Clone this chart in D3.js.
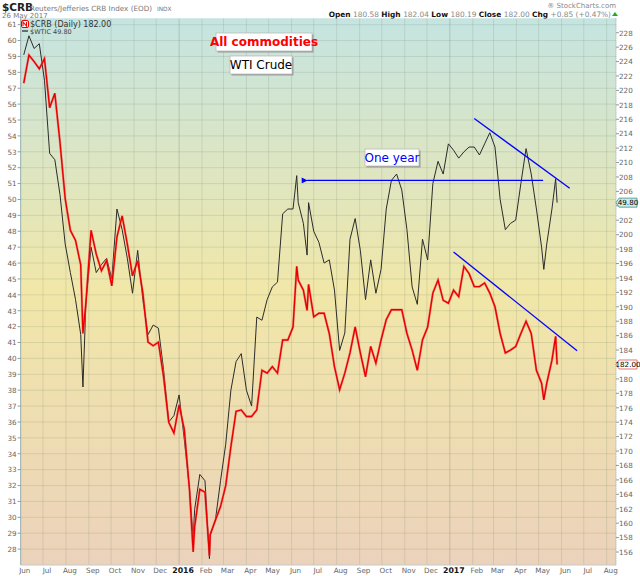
<!DOCTYPE html>
<html><head><meta charset="utf-8">
<script src="https://cdn.jsdelivr.net/npm/d3@7"></script>
<style>body{margin:0;background:#fff}svg{display:block}text{font-family:"DejaVu Sans",Verdana,sans-serif}</style>
</head><body>
<script>
// ---- data ----
const dates = ["2015-06-05","2015-06-12","2015-06-19","2015-06-26","2015-07-03","2015-07-10","2015-07-17","2015-07-24","2015-07-31","2015-08-07","2015-08-14","2015-08-21","2015-08-24","2015-08-28","2015-09-04","2015-09-11","2015-09-18","2015-09-25","2015-10-02","2015-10-09","2015-10-16","2015-10-23","2015-10-30","2015-11-06","2015-11-13","2015-11-20","2015-11-27","2015-12-04","2015-12-11","2015-12-18","2015-12-25","2016-01-01","2016-01-08","2016-01-15","2016-01-20","2016-01-22","2016-01-29","2016-02-05","2016-02-11","2016-02-12","2016-02-19","2016-02-26","2016-03-04","2016-03-11","2016-03-18","2016-03-25","2016-04-01","2016-04-08","2016-04-15","2016-04-22","2016-04-29","2016-05-06","2016-05-13","2016-05-20","2016-05-27","2016-06-03","2016-06-08","2016-06-10","2016-06-17","2016-06-22","2016-06-24","2016-07-01","2016-07-08","2016-07-15","2016-07-22","2016-07-29","2016-08-05","2016-08-12","2016-08-19","2016-08-26","2016-09-02","2016-09-09","2016-09-16","2016-09-23","2016-09-30","2016-10-07","2016-10-14","2016-10-21","2016-10-28","2016-11-04","2016-11-11","2016-11-18","2016-11-25","2016-12-02","2016-12-09","2016-12-16","2016-12-23","2016-12-30","2017-01-06","2017-01-13","2017-01-20","2017-01-27","2017-02-03","2017-02-10","2017-02-17","2017-02-24","2017-03-03","2017-03-10","2017-03-17","2017-03-24","2017-03-31","2017-04-07","2017-04-14","2017-04-21","2017-04-28","2017-05-05","2017-05-08","2017-05-12","2017-05-19","2017-05-24","2017-05-26"];
const wti = [59.1,60.3,59.5,59.8,57.5,52.9,52.5,50.3,47.2,45.4,43.7,41.5,38.2,43.5,47.0,45.4,45.9,46.3,45.0,49.4,48.1,46.3,44.1,46.8,43.7,41.5,42.1,41.9,39.3,36.0,36.4,37.7,34.9,31.8,28.7,30.5,32.7,32.3,27.4,28.9,29.8,32.3,34.6,38.0,39.8,40.3,38.0,37.0,42.6,42.4,43.7,44.5,44.8,49.1,49.4,49.4,51.5,49.8,48.5,46.5,49.8,48.0,47.3,46.0,46.2,44.3,40.5,41.6,47.5,48.8,46.8,43.7,46.2,44.1,45.6,49.4,51.2,51.6,50.6,48.1,44.5,43.4,47.5,46.2,51.0,52.4,51.6,53.5,53.1,52.6,53.0,53.3,53.3,52.8,53.5,54.2,53.3,50.0,48.1,48.5,48.7,51.0,53.2,51.6,49.4,47.0,45.6,47.2,49.4,51.3,49.8];
const crb = [221.0,224.9,224.0,223.0,224.4,217.6,219.6,212.8,205.0,200.6,199.2,195.8,186.3,190.5,200.6,197.3,195.0,196.4,192.9,199.7,202.6,198.7,194.3,196.4,191.9,185.1,184.6,185.1,180.3,174.0,172.5,176.4,173.0,164.7,156.0,159.5,164.7,164.3,155.5,158.4,160.4,162.3,165.2,170.6,175.5,175.7,174.8,174.8,175.7,181.2,180.8,181.7,180.8,185.4,185.4,187.2,195.6,193.7,192.3,189.5,193.1,188.6,189.1,189.1,186.3,181.7,178.5,180.8,183.6,187.2,183.6,180.3,184.5,182.2,185.4,188.2,189.6,189.6,189.6,186.3,184.0,181.2,185.4,187.2,191.9,193.7,190.9,190.5,192.3,191.4,195.6,194.6,192.8,192.8,193.3,191.9,190.0,186.3,183.6,184.0,184.5,186.3,188.0,186.3,181.2,179.4,177.1,179.4,182.6,185.9,182.0];
const leftTicks = d3.range(28, 62, 1);
const rightTicks = d3.range(156, 230, 2);
const monthNames = ["Jan","Feb","Mar","Apr","May","Jun","Jul","Aug","Sep","Oct","Nov","Dec"];
// annotation anchors (date, value)
const topTrend = [["2017-02-03",55.1],["2017-06-12",50.7]];      // on WTI scale
const lowTrend = [["2017-01-06",197.6],["2017-06-22",183.9]];    // on CRB scale
const oneYearArrow = [["2017-05-07",51.2],["2016-06-22",51.2]];  // on WTI scale

const parse = d3.timeParse("%Y-%m-%d");
const W = 640, H = 576;
const L = 20.6, R = 616, T = 18.3, B = 565;
const x = d3.scaleTime().domain([parse("2015-06-01"), parse("2017-08-14")]).range([20.8, 616.3]);
const yL = d3.scaleLinear().domain([27, 61.4]).range([B, T]);
const yR = d3.scaleLinear().domain([154.2, 230]).range([B, T]);

const svg = d3.select("body").append("svg").attr("width", W).attr("height", H);
const defs = svg.append("defs");
const g = defs.append("linearGradient").attr("id","bg").attr("x1",0).attr("y1",0).attr("x2",0).attr("y2",1);
g.append("stop").attr("offset","0%").attr("stop-color","#c5e4e1");
g.append("stop").attr("offset","50%").attr("stop-color","#f1e7a8");
g.append("stop").attr("offset","100%").attr("stop-color","#ebd2bb");
defs.append("clipPath").attr("id","clip").append("rect").attr("x",L).attr("y",T).attr("width",R-L).attr("height",B-T);
const mk = defs.append("marker").attr("id","arr").attr("viewBox","0 0 10 10").attr("refX",1).attr("refY",5)
  .attr("markerWidth",8).attr("markerHeight",6).attr("orient","auto-start-reverse").attr("markerUnits","userSpaceOnUse");
mk.append("path").attr("d","M0,5L10,0L10,10Z").attr("fill","#0000ff");

svg.append("rect").attr("x",L).attr("y",T).attr("width",R-L).attr("height",B-T).attr("fill","url(#bg)");

// grid
const grid = svg.append("g").attr("clip-path","url(#clip)");
leftTicks.forEach(v => grid.append("line").attr("x1",L).attr("x2",R).attr("y1",yL(v)).attr("y2",yL(v))
  .attr("stroke","#6e7f6a").attr("stroke-opacity",0.18).attr("stroke-width",1));
const months = d3.timeMonth.range(parse("2015-06-01"), parse("2017-08-10"));
months.forEach(m => grid.append("line").attr("x1",x(m)).attr("x2",x(m)).attr("y1",T).attr("y2",B)
  .attr("stroke","#6e7f6a").attr("stroke-opacity", m.getMonth()===0 ? 0.3 : 0.18).attr("stroke-width",1));

// frame
svg.append("line").attr("x1",L).attr("x2",L).attr("y1",T).attr("y2",B).attr("stroke","#9fb6b4").attr("stroke-width",1);
svg.append("line").attr("x1",L).attr("x2",R).attr("y1",B).attr("y2",B).attr("stroke","#c8c8c8").attr("stroke-width",1);
svg.append("line").attr("x1",R).attr("x2",R).attr("y1",T).attr("y2",B).attr("stroke","#9aa").attr("stroke-dasharray","1,1").attr("stroke-width",1);

// left axis
const la = svg.append("g");
leftTicks.forEach(v => {
  la.append("line").attr("x1",L-3).attr("x2",L).attr("y1",yL(v)).attr("y2",yL(v)).attr("stroke","#999");
  la.append("text").attr("x",L-4).attr("y",yL(v)+2.8).attr("text-anchor","end").attr("font-size",7.2).attr("fill","#666").text(v);
});
// right axis (labels hidden under the price tags are skipped)
const tagYs = [yL(wti[wti.length-1]), yR(crb[crb.length-1])];
rightTicks.forEach(v => {
  svg.append("line").attr("x1",R).attr("x2",R+3).attr("y1",yR(v)).attr("y2",yR(v)).attr("stroke","#999");
  if (tagYs.some(t => Math.abs(t - yR(v)) < 8)) return;
  svg.append("text").attr("x",R+3).attr("y",yR(v)+2.8).attr("font-size",7.2).attr("fill","#666").text(v);
});
// bottom axis
months.forEach(m => {
  const yr = m.getMonth()===0;
  svg.append("text").attr("x",x(m)+4).attr("y",573).attr("text-anchor","middle")
    .attr("font-size",yr?7.8:7.2).attr("font-weight",yr?"bold":"normal").attr("fill",yr?"#111":"#666")
    .text(yr ? m.getFullYear() : monthNames[m.getMonth()]);
});

// series
const pts = dates.map((d,i)=>({d:parse(d), w:wti[i], c:crb[i]}));
const plot = svg.append("g").attr("clip-path","url(#clip)");
plot.append("path").datum(pts).attr("fill","none").attr("stroke","#2b2b2b").attr("stroke-width",1)
  .attr("d", d3.line().x(p=>x(p.d)).y(p=>yL(p.w)));
plot.append("path").datum(pts).attr("fill","none").attr("stroke","#f06060").attr("stroke-width",2.4).attr("stroke-opacity",0.6)
  .attr("d", d3.line().x(p=>x(p.d)).y(p=>yR(p.c)));
plot.append("path").datum(pts).attr("fill","none").attr("stroke","#e80000").attr("stroke-width",1.4)
  .attr("d", d3.line().x(p=>x(p.d)).y(p=>yR(p.c)));

// trend lines & arrow
const ln = (arr, ys) => d3.line().x(p=>x(parse(p[0]))).y(p=>ys(p[1]))(arr);
plot.append("path").attr("d", ln(topTrend, yL)).attr("stroke","#0000ff").attr("stroke-width",1.3).attr("fill","none");
plot.append("path").attr("d", ln(lowTrend, yR)).attr("stroke","#0000ff").attr("stroke-width",1.3).attr("fill","none");
svg.append("path").attr("d", ln(oneYearArrow, yL)).attr("stroke","#0000ff").attr("stroke-width",1.3).attr("fill","none")
  .attr("marker-end","url(#arr)");

// annotation boxes
function box(x0,y0,w,h,txt,color,bold){
  svg.append("rect").attr("x",x0+1.5).attr("y",y0+1.5).attr("width",w).attr("height",h).attr("fill","#9a9a9a");
  svg.append("rect").attr("x",x0).attr("y",y0).attr("width",w).attr("height",h).attr("fill","#fff").attr("stroke","#bbb").attr("stroke-width",0.8);
  svg.append("text").attr("x",x0+w/2).attr("y",y0+h/2+4.3).attr("text-anchor","middle")
    .attr("font-family","'Liberation Sans',Arial,sans-serif").attr("font-size",12).attr("font-weight",bold?"bold":"normal")
    .attr("fill",color).text(txt);
}
box(216,33,96,18,"All commodities","#ff0000",true);
box(230,56,62,18,"WTI Crude","#000",false);
box(365,149,54,17,"One year","#0000ff",false);

// legend inside plot
svg.append("rect").attr("x",21.5).attr("y",20.5).attr("width",7).attr("height",7).attr("rx",1.5).attr("fill","#fff").attr("stroke","#e00").attr("stroke-width",1);
svg.append("path").attr("d","M23,26 L23,22 L26.5,26 L26.5,22").attr("stroke","#e00").attr("stroke-width",1.1).attr("fill","none");
svg.append("text").attr("x",30).attr("y",27).attr("font-size",8).attr("fill","#333").attr("font-family","'DejaVu Sans Mono',monospace").text("$CRB (Daily) 182.00");
svg.append("line").attr("x1",22).attr("x2",28).attr("y1",31).attr("y2",31).attr("stroke","#222").attr("stroke-width",1.2);
svg.append("text").attr("x",30).attr("y",33.5).attr("font-size",6.5).attr("fill","#444").text("$WTIC 49.80");

// price tags on right axis
function tag(v, ys, txt, fill, stroke){
  const yy = ys(v);
  svg.append("path").attr("d",`M${R},${yy} L${R+3},${yy-4.5} L${R+21},${yy-4.5} L${R+21},${yy+4.5} L${R+3},${yy+4.5} Z`)
    .attr("fill",fill).attr("stroke",stroke).attr("stroke-width",0.8);
  svg.append("text").attr("x",R+12).attr("y",yy+2.8).attr("text-anchor","middle").attr("font-size",7.2).attr("fill","#000").text(txt);
}
tag(wti[wti.length-1], yL, "49.80", "#cdeeee", "#3a8a8a");
tag(crb[crb.length-1], yR, "182.00", "#fff", "#e05050");

// header
svg.append("text").attr("x",2).attr("y",10.5).attr("font-size",10.5).attr("font-weight","bold").attr("fill","#222")
  .attr("font-family","'Liberation Sans',Arial,sans-serif").text("$CRB");
svg.append("text").attr("x",30).attr("y",10.5).attr("font-size",7.2).attr("fill","#777").text("Reuters/Jefferies CRB Index (EOD)");
svg.append("text").attr("x",157).attr("y",10.5).attr("font-size",5.8).attr("fill","#777").text("INDX");
svg.append("text").attr("x",2).attr("y",17.5).attr("font-size",7).attr("fill","#777").text("26 May 2017");
svg.append("text").attr("x",616).attr("y",7.5).attr("text-anchor","end").attr("font-size",7).attr("fill","#888").text("® StockCharts.com");
const q = svg.append("text").attr("x",611).attr("y",16.5).attr("text-anchor","end").attr("font-size",7.4);
[["Open ","b"],["180.58 ","n"],["High ","b"],["182.04 ","n"],["Low ","b"],["180.19 ","n"],["Close ","b"],["182.00 ","n"],["Chg ","b"],["+0.85 (+0.47%)","n"]]
  .forEach(([t,k]) => q.append("tspan").attr("font-weight",k==="b"?"bold":"normal").attr("fill",k==="b"?"#111":"#888").text(t));
svg.append("path").attr("d","M612,16 L615,12 L618,16 Z").attr("fill","#2a2");
</script>
</body></html>
